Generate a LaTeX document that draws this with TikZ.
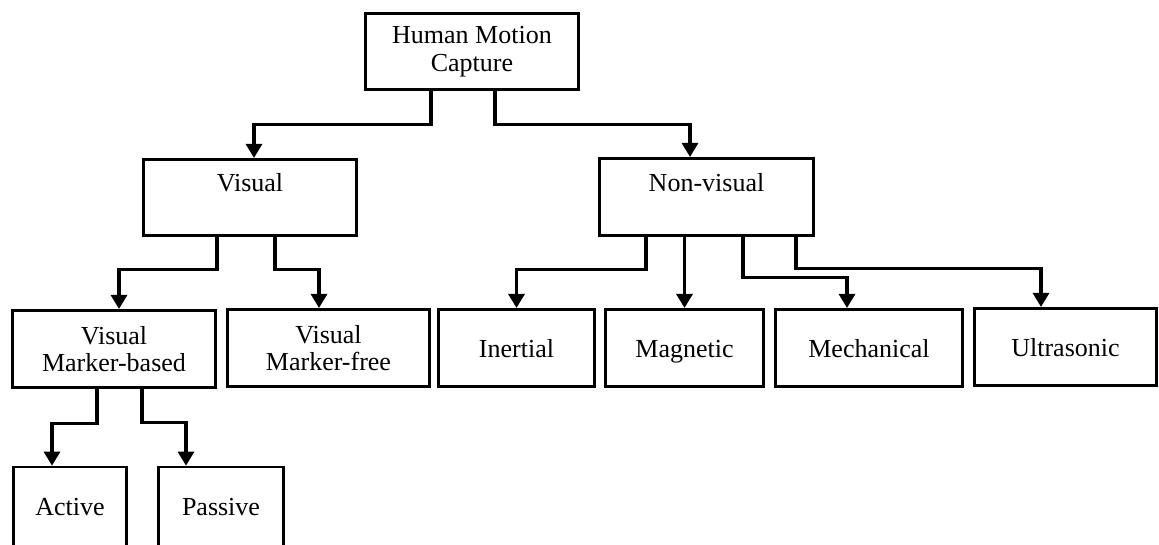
\documentclass[tikz,border=0pt]{standalone}
\usepackage{fontspec}
\setmainfont{Liberation Serif}
\usetikzlibrary{arrows.meta,calc}
\begin{document}
\begin{tikzpicture}[x=1pt,y=-1pt,
  box/.style={draw, line width=2.7pt, inner sep=0pt, minimum height=77.4pt,
              font=\fontsize{26}{27.5}\selectfont},
  two/.style={align=center},
  one/.style={text height=18pt, text depth=0pt},
  toptext/.style={text height=18pt, text depth=30pt},
  tall/.style={minimum height=100pt, text height=18pt, text depth=20.8pt},
  link/.style={draw, line width=3.1pt, -{Triangle[width=16pt,length=14pt]}},
]
\useasboundingbox (0,0) rectangle (1159,544);
\fill[white] (0,0) rectangle (1159,544);
\clip (0,0) rectangle (1159,544);

% root
\node[box, two, minimum width=213.4pt, minimum height=76.4pt] (hmc) at (472,51.5) {Human Motion\\Capture};

% second level
\node[box, toptext, minimum width=213.4pt, minimum height=76.4pt] (vis) at (250,197.5) {Visual};
\node[box, toptext, minimum width=214.4pt] (nv) at (706.5,197) {Non-visual};

% third level
\node[box, two, minimum width=203.4pt] (mb) at (114,349) {Visual\\Marker-based};
\node[box, two, minimum width=202.4pt] (mf) at (328.5,348) {Visual\\Marker-free};
\node[box, one, minimum width=156.4pt] (inert) at (516.5,348) {Inertial};
\node[box, one, minimum width=158.4pt] (mag) at (684.5,348) {Magnetic};
\node[box, one, minimum width=187.4pt] (mech) at (869,348) {Mechanical};
\node[box, one, minimum width=182.4pt] (ult) at (1065.5,347) {Ultrasonic};

% fourth level (boxes run past the lower edge)
\node[box, tall, minimum width=113.4pt] (act) at (70,517) {Active};
\node[box, tall, minimum width=125.4pt] (pas) at (221,517) {Passive};

% connectors
\draw[link] ($(hmc.south)+(-41,0)$) -- ++(0,33) -| ($(vis.north)+(4,0)$);
\draw[link] ($(hmc.south)+(23,0)$) -- ++(0,33) -| ($(nv.north)+(-16.5,0)$);

\draw[link] ($(vis.south)+(-33,0)$) -- ++(0,32) -| ($(mb.north)+(5,0)$);
\draw[link] ($(vis.south)+(25,0)$) -- ++(0,32) -| ($(mf.north)+(-9.5,0)$);

\draw[link] ($(nv.south)+(-60.5,0)$) -- ++(0,32) -| (inert.north);
\draw[link] (nv.south -| mag.north) -- (mag.north);
\draw[link] ($(nv.south)+(36.5,0)$) -- ++(0,40) -| ($(mech.north)+(-22,0)$);
\draw[link] ($(nv.south)+(89.5,0)$) -- ++(0,31) -| ($(ult.north)+(-24.5,0)$);

\draw[link] ($(mb.south)+(-17,0)$) -- ++(0,34) -| ($(act.north)+(-18,0)$);
\draw[link] ($(mb.south)+(28,0)$) -- ++(0,33) -| ($(pas.north)+(-35,0)$);
\end{tikzpicture}
\end{document}
